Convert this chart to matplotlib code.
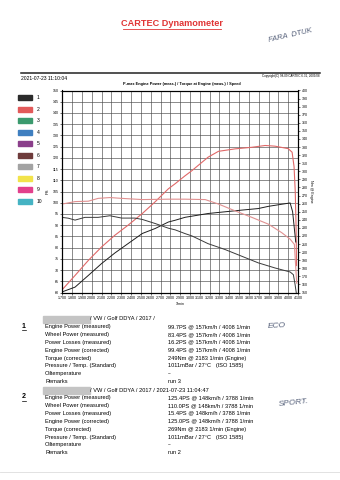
import matplotlib
matplotlib.use("Agg")
import matplotlib.pyplot as plt
from matplotlib.patches import Rectangle

plt.rcParams['font.family'] = ['Liberation Sans', 'DejaVu Sans']

rpm_pow2 = [1700, 1830, 1965, 2100, 2235, 2370, 2515, 2645, 2780, 2850, 2950, 3020,
            3185, 3290, 3460, 3630, 3765, 3865, 4000, 4040, 4060, 4072, 4080, 4085]
pow2 = [61.3, 67.6, 74.3, 80.3, 85.5, 90.0, 95.2, 100.4, 106.2, 108.5, 112.0, 114.3,
        120.3, 122.9, 124.0, 124.7, 125.5, 125.2, 124.1, 122.5, 116.0, 105.0, 90.0, 72.0]

rpm_pow3 = [1700, 1830, 1965, 2100, 2235, 2370, 2515, 2645, 2780, 2850, 2950, 3185,
            3525, 3695, 3800, 4020, 4045, 4077]
pow3 = [60.3, 62.4, 67.6, 72.9, 77.6, 81.8, 86.3, 88.5, 91.4, 92.2, 93.5, 95.2,
        96.7, 97.4, 98.4, 99.9, 96.0, 82.5]

rpm_trq2 = [1700, 1765, 1830, 1965, 2065, 2185, 2305, 2515, 2780, 2950, 3155, 3290,
            3460, 3630, 3800, 3935, 4020, 4063, 4075, 4087]
trq2 = [259.5, 261.0, 262.5, 263.0, 266.5, 267.5, 266.5, 265.0, 265.5, 265.5, 265.0, 259.5,
        251.0, 243.0, 234.5, 224.0, 216.0, 209.5, 185.0, 161.5]

rpm_trq3 = [1700, 1760, 1830, 1930, 2065, 2185, 2305, 2440, 2515, 2645, 2780, 2850,
            2950, 3020, 3185, 3355, 3525, 3695, 3865, 4020, 4053, 4070, 4082]
trq3 = [242.9, 242.0, 239.6, 243.0, 243.0, 245.0, 242.1, 242.1, 240.4, 235.4, 229.6, 227.5,
        222.9, 220.0, 210.4, 203.3, 195.0, 186.7, 180.4, 175.4, 172.0, 160.0, 150.0]

x_ticks = list(range(1700, 4101, 100))
ps_ticks = list(range(60, 151, 5))
nm_ticks = list(range(150, 401, 10))

legend_nums = [str(i) for i in range(1, 11)]
legend_colors = ['#2b2b2b', '#e25a5a', '#3b9a6e', '#3f7fc0', '#8b3f8b',
                 '#6e3b3b', '#a3a3a3', '#f2e34a', '#e2408c', '#45b3c3']

row_labels = ['Engine Power (measured)', 'Wheel Power (measured)', 'Power Losses (measured)',
              'Engine Power (corrected)', 'Torque (corrected)', 'Pressure / Temp. (Standard)',
              'Oiltemperature', 'Remarks']
run3_values = ['99.7PS @ 157km/h / 4008 1/min', '83.4PS @ 157km/h / 4008 1/min',
               '16.2PS @ 157km/h / 4008 1/min', '99.4PS @ 157km/h / 4008 1/min',
               '249Nm @ 2183 1/min (Engine)', '1011mBar / 27°C   (ISO 1585)', '--', 'run 3']
run2_values = ['125.4PS @ 148km/h / 3788 1/min', '110.0PS @ 148km/h / 3788 1/min',
               '15.4PS @ 148km/h / 3788 1/min', '125.0PS @ 148km/h / 3788 1/min',
               '269Nm @ 2183 1/min (Engine)', '1011mBar / 27°C   (ISO 1585)', '--', 'run 2']

W, H = 340, 480


def fx(x):
    return x / W


def fy(y):
    return 1 - y / H


fig = plt.figure(figsize=(3.4, 4.8), dpi=100)

# Kopf
fig.text(fx(172), fy(24), 'CARTEC Dynamometer', color='#e03535', fontsize=6.6,
         fontweight='bold', ha='center', va='center')
fig.add_artist(plt.Line2D([fx(123), fx(221)], [fy(28.5), fy(28.5)], color='#e03535', lw=0.6))
fig.text(fx(290), fy(36), 'FARA  DTUK', color='#55607a', fontsize=5.5, style='italic',
         rotation=13, ha='center', va='center')
fig.add_artist(plt.Line2D([fx(21), fx(320)], [fy(73.3), fy(73.3)], color='#222222', lw=1.1))
fig.text(fx(21), fy(78), '2021-07-23 11:10:04', fontsize=3.6, va='center')
fig.text(fx(319), fy(76), 'Copyright(C) 98-09 CARTEC 6.31, 2009/08', fontsize=2.2,
         ha='right', va='center')
fig.text(fx(182), fy(84.5), 'P-max Engine Power (meas.) / Torque at Engine (meas.) / Speed',
         fontsize=2.8, fontweight='bold', ha='center', va='center')

# Diagramm
ax = fig.add_axes([fx(62.3), fy(292.5), fx(298) - fx(62.3), fy(90.5) - fy(292.5)])
ax.set_xlim(1700, 4100)
ax.set_ylim(60, 150)
ax.set_xticks(x_ticks)
ax.set_xticklabels([f'{v:,}'.replace(',', '.') for v in x_ticks])
ax.set_yticks(ps_ticks)
ax.grid(True, color='#4a4a4a', lw=0.45)
ax.tick_params(labelsize=2.6, length=1.5, width=0.4, pad=1.2)
for s in ax.spines.values():
    s.set_linewidth(0.8)
ax.set_ylabel('PS', fontsize=3, labelpad=2)
ax.set_xlabel('1/min', fontsize=2.6, labelpad=1.5)

ax.plot(rpm_pow2, pow2, color='#e06868', lw=0.8)
ax.plot(rpm_pow3, pow3, color='#1e1e1e', lw=0.7)

ax2 = ax.twinx()
ax2.set_ylim(150, 400)
ax2.set_yticks(nm_ticks)
ax2.tick_params(labelsize=2.6, length=1.5, width=0.4, pad=1.2)
ax2.set_ylabel('Nm @ Engine', fontsize=2.6, rotation=270, labelpad=4)
ax2.plot(rpm_trq2, trq2, color='#e09090', lw=0.8)
ax2.plot(rpm_trq3, trq3, color='#3a3a3a', lw=0.7)

# Legende links
for i, (num, col) in enumerate(zip(legend_nums, legend_colors)):
    y = 97.7 + i * 11.5
    fig.patches.append(Rectangle((fx(18), fy(y + 2.5)), fx(14), 5 / H, color=col,
                                 transform=fig.transFigure, figure=fig))
    fig.text(fx(37), fy(y), num, fontsize=3.6, va='center')


def block(nr, y0, header, values, note, note_xy, note_rot):
    fig.text(fx(22), fy(y0 + 7), nr, fontsize=5, va='center', fontweight='bold')
    fig.add_artist(plt.Line2D([fx(21.5), fx(26)], [fy(y0 + 10.5), fy(y0 + 10.5)],
                              color='black', lw=0.5))
    fig.patches.append(Rectangle((fx(43), fy(y0 + 3.5)), fx(47), 7 / H, color='#c4c4c4',
                                 transform=fig.transFigure, figure=fig))
    fig.text(fx(90), fy(y0), header, fontsize=4.1, va='center')
    for k, (lab, val) in enumerate(zip(row_labels, values)):
        y = y0 + 7.5 + k * 7.9
        fig.text(fx(45), fy(y), lab, fontsize=4.1, va='center')
        fig.text(fx(168), fy(y), val, fontsize=4.1, va='center')
    fig.text(fx(note_xy[0]), fy(note_xy[1]), note, fontsize=6, color='#55607a',
             style='italic', rotation=note_rot, ha='center', va='center')


block('1', 319, '/ VW / Golf DDYA / 2017 /', run3_values, 'ECO', (277, 326), 3)
block('2', 390, '/ VW / Golf DDYA / 2017 / 2021-07-23 11:04:47', run2_values,
      'SPORT.', (294, 403), 6)

fig.add_artist(plt.Line2D([0, 1], [fy(472), fy(472)], color='#dddddd', lw=0.6))

fig.savefig('out.png', dpi=100)
